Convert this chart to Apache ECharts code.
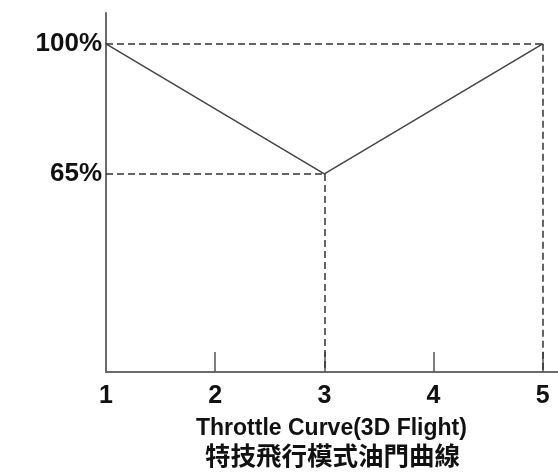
<!DOCTYPE html>
<html>
<head>
<meta charset="utf-8">
<script src="https://cdn.jsdelivr.net/npm/echarts@6/dist/echarts.min.js"></script>
<style>
  html, body { margin: 0; padding: 0; background: #fff; }
  #chart { width: 558px; height: 473px; }
</style>
</head>
<body>
<div id="chart"></div>
<script>
// curve points (x = stick position, y = throttle %)
const stickPos = [1, 3, 5]
const throttle = [100, 65, 100]
const xTickValues = [1, 2, 3, 4, 5]
const yTickValues = [65, 100]
const titleEn = 'Throttle Curve(3D Flight)'
const titleZh = '特技飛行模式油門曲線'

const yMin = 11.7
const yMax = 108.3

const chart = echarts.init(document.getElementById('chart'))

// dashed guide lines from each point back to the axes
const guides = []
stickPos.forEach((x, i) => {
  const y = throttle[i]
  guides.push([{ coord: [stickPos[0], y] }, { coord: [x, y] }])
  if (i > 0) guides.push([{ coord: [x, y] }, { coord: [x, yMin] }])
})

const font = '"Liberation Sans", Arial, sans-serif'

const option = {
  animation: false,
  grid: { left: 106, right: 0, top: 13, bottom: 101 },
  xAxis: {
    type: 'value',
    min: 1,
    max: 5.14,
    axisLine: { lineStyle: { color: '#6a6a6a', width: 2 } },
    axisTick: {
      show: true,
      inside: true,
      length: 20,
      customValues: xTickValues.slice(1),
      lineStyle: { color: '#555', width: 1.5 }
    },
    axisLabel: {
      customValues: xTickValues,
      margin: 12,
      fontFamily: font,
      fontWeight: 'bold',
      fontSize: 25,
      color: '#111'
    },
    splitLine: { show: false }
  },
  yAxis: {
    type: 'value',
    min: yMin,
    max: yMax,
    axisLine: { show: true, lineStyle: { color: '#6a6a6a', width: 2 } },
    axisTick: { show: false },
    axisLabel: {
      customValues: yTickValues,
      formatter: '{value}%',
      margin: 4,
      fontFamily: font,
      fontWeight: 'bold',
      fontSize: 26,
      color: '#111',
      padding: [0, 0, 4, 0]
    },
    splitLine: { show: false }
  },
  graphic: [
    {
      type: 'text',
      left: 196,
      top: 417,
      style: {
        text: titleEn,
        fontFamily: font,
        fontWeight: 'bold',
        fontSize: 23,
        fill: '#111'
      }
    },
    {
      type: 'text',
      left: 205,
      top: 443,
      style: {
        text: titleZh,
        fontFamily: '"Noto Sans CJK TC", sans-serif',
        fontWeight: 'bold',
        fontSize: 25.5,
        fill: '#111'
      }
    }
  ],
  series: [
    {
      type: 'line',
      data: stickPos.map((x, i) => [x, throttle[i]]),
      symbol: 'none',
      lineStyle: { color: '#444', width: 1.5 },
      markLine: {
        silent: true,
        symbol: 'none',
        label: { show: false },
        lineStyle: { color: '#333', width: 1.5, type: [7, 4] },
        data: guides
      }
    }
  ]
}

chart.setOption(option)
</script>
</body>
</html>
